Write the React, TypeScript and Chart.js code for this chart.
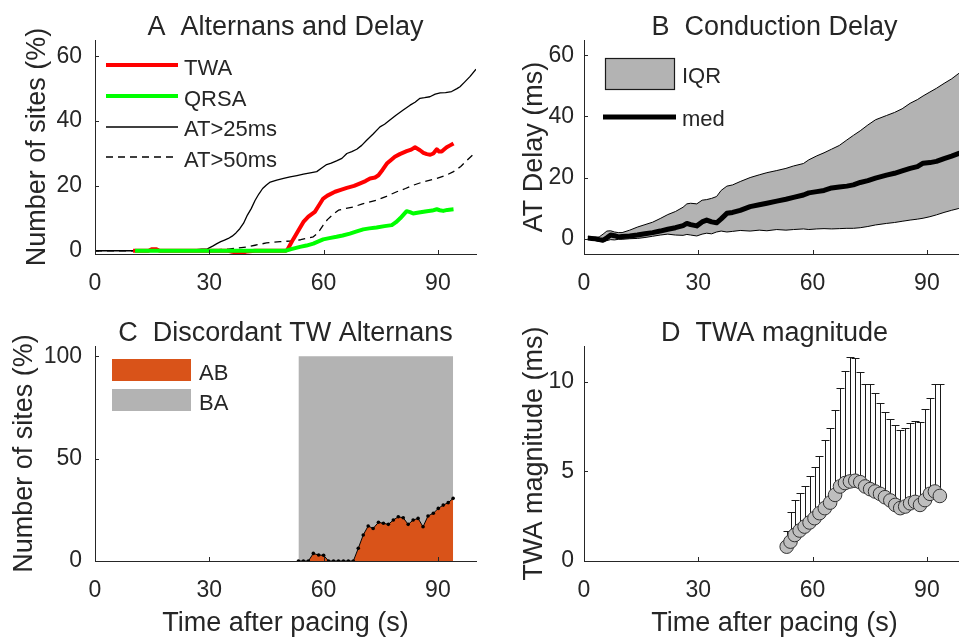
import React, { useEffect, useRef } from "react";
import { Chart, registerables } from "chart.js";
Chart.register(...registerables);

// ---------- Panel A : Alternans and Delay ----------
const twaT = [10, 14, 15, 16, 17, 20, 25, 30, 35, 36, 37, 38, 39, 40, 42, 45, 50, 50.5, 52, 53.5, 54.7, 56, 57.7, 58.5, 59.9, 61, 63, 64.5, 66.1, 68, 69.6, 71, 72.2, 73.5, 74.4, 75.5, 76.6, 77.7, 78.7, 80, 81.8, 83, 84, 85.3, 86.2, 87.1, 88, 88.8, 89.7, 90.3, 91, 91.6, 92.3, 93.2, 94.1];
const twaV = [0, 0, 0.5, 0.5, 0, 0, 0, 0, 0, -0.3, -0.5, -0.6, -0.5, -0.2, 0, 0, 0, 0.3, 3.5, 6.5, 8.9, 10.5, 12, 13.5, 16.1, 17, 18.2, 18.8, 19.4, 20, 20.8, 21.5, 22.3, 22.6, 23.3, 25, 26.9, 28, 29, 29.8, 30.7, 31.2, 31.9, 31, 30.2, 29.8, 29.6, 30, 31.3, 30.6, 30.6, 31.2, 31.9, 32.5, 33.1];
const qrsaT = [10.5, 20, 30, 40, 45, 50, 51.5, 53.8, 55.5, 57.3, 58.5, 59.9, 61.5, 63.4, 65, 66.9, 68.5, 70.4, 72, 73.9, 76, 77.9, 79, 80.1, 81.8, 82.7, 83.5, 85, 87.1, 88.5, 89.7, 90.5, 91.4, 92.5, 94.1];
const qrsaV = [0, 0, 0, 0, 0, 0, 0.5, 1.2, 1.6, 2.2, 2.8, 3.5, 3.9, 4.3, 4.7, 5.3, 5.9, 6.6, 6.9, 7.2, 7.6, 7.9, 8.8, 10, 12.2, 11.9, 11.5, 11.8, 12.2, 12.4, 12.8, 12.5, 12.3, 12.6, 12.8];
const at25T = [0, 5, 10, 15, 20, 22, 24, 26, 28, 29.5, 31, 32, 33, 34, 35, 36, 37, 38, 39, 40, 41, 42, 43, 44, 45, 46, 47.7, 49.5, 51.2, 53, 54.7, 56.5, 58.2, 59.5, 60.8, 62, 63.4, 64.8, 66.1, 67.4, 68.7, 70, 71.3, 73, 74.8, 76, 77.4, 79, 80.9, 82.7, 84, 85.3, 86.5, 87.9, 89.3, 90.6, 92, 93.6, 95, 95.8, 97, 98.4, 100];
const at25V = [0, 0, 0, 0, 0, 0, 0.3, 0.3, 0.5, 0.6, 1.5, 2.2, 2.8, 3.3, 3.8, 4.5, 5.5, 6.8, 8.5, 11, 13, 15.5, 17.5, 19.2, 20.3, 21.2, 21.8, 22.3, 22.8, 23.2, 23.6, 24, 24.4, 25.5, 26.6, 27, 27.7, 28.5, 30, 30.6, 31.3, 32.5, 34.1, 36, 38.2, 39, 40.3, 41.8, 43.4, 44.9, 45.8, 47, 47.2, 47.5, 48.3, 48.7, 48.8, 49.1, 50, 50.6, 52, 53.7, 56];
const at50T = [0, 10, 20, 25, 30, 35, 40, 42, 45, 48.6, 51.2, 54, 57.3, 58.5, 59.9, 61, 62.5, 63.9, 65.5, 67.8, 70, 73.9, 76.5, 79.2, 81.5, 83.5, 86, 89.7, 92, 94.1, 96, 98, 100];
const at50V = [0, 0, 0, 0, 0.2, 0.5, 1.2, 1.7, 2.4, 2.8, 3, 3.4, 4.3, 5.5, 7.9, 9.6, 11.2, 12.5, 13, 13.5, 14.4, 15.6, 16.8, 18.2, 19.2, 20.2, 21.2, 22.3, 23.2, 24.4, 26, 28.3, 30.5];
const namesA = ["TWA", "QRSA", "AT>25ms", "AT>50ms"];

// ---------- Panel B : Conduction Delay ----------
const tB = [1, 2, 3, 4, 5, 6, 7, 8, 9, 10, 12, 14, 16, 18, 20, 22, 24, 26, 27, 28, 29.6, 31, 32.2, 33.5, 34.8, 36, 37.5, 39, 41, 43.6, 46, 48, 50.6, 53, 55, 57.6, 59, 61.1, 63, 65, 67, 69, 70.7, 72.5, 74.5, 76.5, 79.4, 81.5, 83.5, 85.6, 87.5, 89, 90.8, 92.5, 94.5, 96.5, 98.4, 100];
const medB = [0.2, 0.1, 0, -0.3, -0.5, 0.3, 1.2, 1, 0.6, 0.7, 0.9, 1.2, 1.6, 2, 2.5, 3.1, 3.6, 4.3, 5, 4.6, 4.2, 5.5, 6.1, 5.5, 5.2, 6.5, 8.3, 8.6, 9.3, 10.5, 11.1, 11.6, 12.3, 12.9, 13.5, 14.3, 15, 15.4, 15.8, 16.6, 16.9, 17.2, 17.6, 18.4, 19, 19.8, 20.8, 21.4, 22.2, 23, 23.6, 24.7, 24.9, 25.3, 26.2, 27, 27.9, 28.5];
const upB = [0.65, 0.5, 0.3, 0.6, 1.5, 2.5, 2.6, 2.2, 2, 2, 2.8, 3.8, 4.6, 5.4, 6.6, 7.9, 8.9, 10.3, 11.4, 11.6, 11.4, 12.6, 12.8, 13.2, 13.8, 15.8, 17.2, 17.6, 18.7, 20, 20.9, 21.6, 22.3, 23, 23.8, 24.6, 25.8, 27.1, 28.1, 29.3, 30.5, 32.3, 33.8, 35.3, 37.2, 38.9, 40.3, 41.3, 42.5, 44.3, 45.5, 46.7, 48, 49.2, 50.8, 52.3, 54.1, 55.5];
const loB = [0, -0.3, -0.6, -0.9, -1, -0.6, -0.3, -0.4, -0.2, -0.2, 0, 0.1, 0.4, 0.8, 1.2, 1.5, 1.2, 1.1, 1.4, 1.2, 0.9, 1.5, 1.8, 1.6, 2.2, 2.5, 2.2, 2.4, 2.7, 2.5, 2.8, 2.6, 3, 2.8, 3, 3.2, 3, 3.2, 3.3, 3.2, 3.3, 3.4, 3.4, 3.6, 4, 4.5, 5, 5.3, 5.7, 6.1, 6.4, 6.7, 7.2, 7.8, 8.6, 9.3, 9.9, 10.5];
const namesB = ["IQR", "med"];

// ---------- Panel C : Discordant TW Alternans ----------
const tC = [53.4, 54.7, 56.0, 57.3, 58.7, 60.0, 61.3, 62.6, 63.9, 65.2, 66.5, 67.8, 69.1, 70.4, 71.7, 73.0, 74.4, 75.7, 77.0, 78.3, 79.6, 80.9, 82.2, 83.5, 84.8, 86.1, 87.4, 88.8, 90.1, 91.4, 92.7, 94.0];
const abPct = [0, 0, 0, 3.7, 2.9, 2.8, 0, 0, 0, 0, 0, 0, 6.2, 12.7, 17.1, 15.9, 18.9, 18.4, 17.9, 20, 21.6, 21.1, 17.9, 20, 20.8, 16.7, 22, 23.3, 25.7, 27.3, 28.5, 30.6];
const baPct = abPct.map((v) => 100 - v);
const namesC = ["AB", "BA"];

// ---------- Panel D : TWA magnitude ----------
const tD = [53.2, 54.2, 55.3, 56.6, 57.9, 59.2, 60.5, 61.8, 63.2, 64.6, 65.9, 67.2, 68.5, 69.8, 71.2, 72.5, 73.8, 75.1, 76.4, 77.7, 79.0, 80.4, 81.7, 83.0, 84.3, 85.6, 86.9, 88.2, 89.5, 90.8, 92.1, 93.4];
const twaMean = [0.8, 1.08, 1.45, 1.7, 1.92, 2.15, 2.39, 2.67, 2.95, 3.26, 3.69, 4.16, 4.35, 4.44, 4.48, 4.4, 4.16, 4.01, 3.88, 3.75, 3.56, 3.38, 3.13, 2.95, 3.04, 3.22, 3.3, 3.13, 3.4, 3.75, 3.88, 3.63];
const twaUpper = [1.7, 2.76, 3.41, 3.82, 4.16, 4.72, 5.24, 5.88, 6.77, 7.42, 8.41, 9.66, 10.63, 11.38, 11.34, 10.56, 9.89, 9.89, 9.35, 8.82, 8.3, 7.95, 7.61, 7.33, 7.42, 7.7, 7.83, 7.76, 8.49, 9.07, 9.89, 9.9];

// ---------- axes ----------
const xTicks = [0, 30, 60, 90];
const yTicksA = [0, 20, 40, 60];
const yTicksB = [0, 20, 40, 60];
const yTicksC = [0, 50, 100];
const yTicksD = [0, 5, 10];

const FONT = '"Liberation Sans", Arial, Helvetica, sans-serif';
const INK = "#262626";
const CW = 1000;
const CH = 639;
const YW = 80;
const XH = 40;
const TICK = 4;
const GRAY = "#B3B3B3";
const ORANGE = "#D95319";

type Box = { l: number; t: number; r: number; b: number };
const zip = (xs: number[], ys: number[]) => xs.map((x, i) => ({ x, y: ys[i] }));

function txt(ctx: any, s: string, x: number, y: number, size: number, align: string = "left") {
  ctx.font = `${size}px ${FONT}`;
  ctx.textAlign = align;
  ctx.textBaseline = "alphabetic";
  ctx.fillStyle = INK;
  ctx.fillText(s, x, y);
}

function decor(o: { title: string; xTitle?: string; yTitle: string; yTitleX: number; legend: (ctx: any, chart: any) => void; before?: (chart: any) => void }) {
  return {
    id: "decor",
    beforeDatasetsDraw(chart: any) {
      if (o.before) o.before(chart);
    },
    afterDraw(chart: any) {
      const ctx = chart.ctx;
      const a = chart.chartArea;
      const sx = chart.scales.x;
      const sy = chart.scales.y;
      ctx.save();
      ctx.strokeStyle = INK;
      ctx.lineWidth = 1;
      ctx.setLineDash([]);
      ctx.beginPath();
      sx.ticks.forEach((t: any) => {
        const p = Math.round(sx.getPixelForValue(t.value)) + 0.5;
        ctx.moveTo(p, a.bottom);
        ctx.lineTo(p, a.bottom - TICK);
      });
      sy.ticks.forEach((t: any) => {
        const p = Math.round(sy.getPixelForValue(t.value)) + 0.5;
        ctx.moveTo(a.left, p);
        ctx.lineTo(a.left + TICK, p);
      });
      ctx.stroke();
      const cx = (a.left + a.right) / 2;
      txt(ctx, o.title, cx, a.top - 5, 27, "center");
      if (o.xTitle) txt(ctx, o.xTitle, cx, a.bottom + 70, 27, "center");
      ctx.save();
      ctx.translate(o.yTitleX, (a.top + a.bottom) / 2);
      ctx.rotate(-Math.PI / 2);
      txt(ctx, o.yTitle, 0, 0, 27, "center");
      ctx.restore();
      o.legend(ctx, chart);
      ctx.restore();
    },
  };
}

function options(box: Box, yMin: number, yMax: number, yTicks: number[], yPad: number, stacked = false) {
  return {
    responsive: false,
    animation: false,
    events: [],
    layout: { padding: { left: box.l - YW, top: box.t, right: CW - box.r, bottom: CH - box.b - XH } },
    plugins: { legend: { display: false }, tooltip: { enabled: false }, title: { display: false } },
    elements: { line: { tension: 0, borderJoinStyle: "round" }, point: { radius: 0 } },
    scales: {
      x: {
        type: "linear",
        min: 0,
        max: 100,
        afterBuildTicks: (s: any) => {
          s.ticks = xTicks.map((v) => ({ value: v }));
        },
        afterFit: (s: any) => {
          s.height = XH;
        },
        grid: { display: false, drawTicks: false },
        border: { display: true, color: INK, width: 1 },
        ticks: { color: INK, font: { family: FONT, size: 23 }, padding: 16, maxRotation: 0, minRotation: 0, autoSkip: false },
      },
      y: {
        type: "linear",
        min: yMin,
        max: yMax,
        stacked,
        afterBuildTicks: (s: any) => {
          s.ticks = yTicks.map((v) => ({ value: v }));
        },
        afterFit: (s: any) => {
          s.width = YW;
        },
        grid: { display: false, drawTicks: false },
        border: { display: true, color: INK, width: 1 },
        ticks: { color: INK, font: { family: FONT, size: 23 }, padding: yPad, autoSkip: false },
      },
    },
  };
}

function buildA() {
  return {
    type: "line",
    data: {
      datasets: [
        { label: namesA[0], data: zip(twaT, twaV), borderColor: "#ff0000", borderWidth: 4, pointRadius: 0, fill: false, order: 2 },
        { label: namesA[1], data: zip(qrsaT, qrsaV), borderColor: "#00ff00", borderWidth: 4, pointRadius: 0, fill: false, order: 1 },
        { label: namesA[2], data: zip(at25T, at25V), borderColor: "#000000", borderWidth: 1.3, pointRadius: 0, fill: false, order: 3 },
        { label: namesA[3], data: zip(at50T, at50V), borderColor: "#000000", borderWidth: 1.3, borderDash: [7, 5], pointRadius: 0, fill: false, order: 4 },
      ],
    },
    options: options({ l: 95, t: 40, r: 476, b: 254 }, -1, 65, yTicksA, 13),
    plugins: [
      decor({
        title: "A  Alternans and Delay",
        yTitle: "Number of sites (%)",
        yTitleX: 45,
        legend: (ctx, chart) => {
          const ds = chart.data.datasets;
          const rows = [
            { ly: 65, by: 74.5 },
            { ly: 96, by: 105.5 },
            { ly: 127, by: 136 },
            { ly: 157, by: 166.5 },
          ];
          rows.forEach((r, i) => {
            const d = ds[i];
            ctx.save();
            ctx.strokeStyle = d.borderColor;
            ctx.lineWidth = d.borderWidth;
            ctx.setLineDash(d.borderDash || []);
            ctx.beginPath();
            ctx.moveTo(106, r.ly);
            ctx.lineTo(178, r.ly);
            ctx.stroke();
            ctx.restore();
            txt(ctx, d.label, 184, r.by, 22);
          });
        },
      }),
    ],
  };
}

function buildB() {
  return {
    type: "line",
    data: {
      datasets: [
        { label: namesB[1], data: zip(tB, medB), borderColor: "#000000", borderWidth: 5, pointRadius: 0, fill: false, order: 1 },
        { label: namesB[0], data: zip(tB, upB), borderColor: "#000000", borderWidth: 1, pointRadius: 0, backgroundColor: GRAY, fill: 2, order: 3 },
        { label: "lower", data: zip(tB, loB), borderColor: "#000000", borderWidth: 1, pointRadius: 0, fill: false, order: 2 },
      ],
    },
    options: options({ l: 584, t: 40, r: 965, b: 254 }, -5, 65, yTicksB, 10),
    plugins: [
      decor({
        title: "B  Conduction Delay",
        yTitle: "AT Delay (ms)",
        yTitleX: 542,
        legend: (ctx) => {
          ctx.save();
          ctx.fillStyle = GRAY;
          ctx.fillRect(605, 58, 69, 31);
          ctx.strokeStyle = "#1a1a1a";
          ctx.lineWidth = 1.2;
          ctx.strokeRect(605.5, 58.5, 69, 31);
          ctx.strokeStyle = "#000";
          ctx.lineWidth = 5;
          ctx.beginPath();
          ctx.moveTo(603, 117);
          ctx.lineTo(676, 117);
          ctx.stroke();
          ctx.restore();
          txt(ctx, namesB[0], 682, 83, 22);
          txt(ctx, namesB[1], 682, 126, 22);
        },
      }),
    ],
  };
}

function buildC() {
  return {
    type: "line",
    data: {
      datasets: [
        {
          label: namesC[0],
          data: zip(tC, abPct),
          borderColor: "#000000",
          borderWidth: 1,
          pointRadius: 1.8,
          pointBackgroundColor: "#000000",
          pointBorderWidth: 0,
          backgroundColor: ORANGE,
          fill: "origin",
          order: 1,
        },
        { label: namesC[1], data: zip(tC, baPct), borderWidth: 0, borderColor: GRAY, pointRadius: 0, backgroundColor: GRAY, fill: "-1", order: 2 },
      ],
    },
    options: options({ l: 95, t: 346, r: 476, b: 561 }, 0, 105, yTicksC, 13, true),
    plugins: [
      decor({
        title: "C  Discordant TW Alternans",
        xTitle: "Time after pacing (s)",
        yTitle: "Number of sites (%)",
        yTitleX: 32,
        legend: (ctx) => {
          ctx.save();
          ctx.fillStyle = ORANGE;
          ctx.fillRect(112, 359, 79, 22);
          ctx.fillStyle = GRAY;
          ctx.fillRect(112, 389, 79, 22);
          ctx.restore();
          txt(ctx, namesC[0], 199, 379.5, 22);
          txt(ctx, namesC[1], 199, 410, 22);
        },
      }),
    ],
  };
}

function buildD() {
  return {
    type: "scatter",
    data: {
      datasets: [
        {
          label: "TWA",
          data: zip(tD, twaMean),
          showLine: false,
          pointRadius: 6.8,
          pointBackgroundColor: "#BEBEBE",
          pointBorderColor: "#333333",
          pointBorderWidth: 1,
        },
      ],
    },
    options: options({ l: 584, t: 346, r: 965, b: 561 }, 0, 12, yTicksD, 10),
    plugins: [
      decor({
        title: "D  TWA magnitude",
        xTitle: "Time after pacing (s)",
        yTitle: "TWA magnitude (ms)",
        yTitleX: 542,
        legend: () => {},
        before: (chart) => {
          const ctx = chart.ctx;
          const sx = chart.scales.x;
          const sy = chart.scales.y;
          ctx.save();
          ctx.strokeStyle = "#1a1a1a";
          ctx.lineWidth = 1;
          ctx.beginPath();
          tD.forEach((t, i) => {
            const x = Math.round(sx.getPixelForValue(t)) + 0.5;
            const y0 = sy.getPixelForValue(twaMean[i]);
            const y1 = Math.round(sy.getPixelForValue(twaUpper[i])) + 0.5;
            ctx.moveTo(x, y0);
            ctx.lineTo(x, y1);
            ctx.moveTo(x - 4, y1);
            ctx.lineTo(x + 4, y1);
          });
          ctx.stroke();
          ctx.restore();
        },
      }),
    ],
  };
}

function ChartCanvas({ build }: { build: () => any }) {
  const ref = useRef<HTMLCanvasElement | null>(null);
  useEffect(() => {
    const chart = new Chart(ref.current as HTMLCanvasElement, build() as any);
    return () => chart.destroy();
  }, [build]);
  return (
    <canvas
      ref={ref}
      width={CW}
      height={CH}
      style={{ position: "absolute", left: 0, top: 0, width: CW, height: CH, pointerEvents: "none" }}
    />
  );
}

export default function App() {
  return (
    <div style={{ position: "fixed", left: 0, top: 0, width: 959, height: 639, overflow: "hidden", background: "#ffffff" }}>
      <ChartCanvas build={buildA} />
      <ChartCanvas build={buildB} />
      <ChartCanvas build={buildC} />
      <ChartCanvas build={buildD} />
    </div>
  );
}
